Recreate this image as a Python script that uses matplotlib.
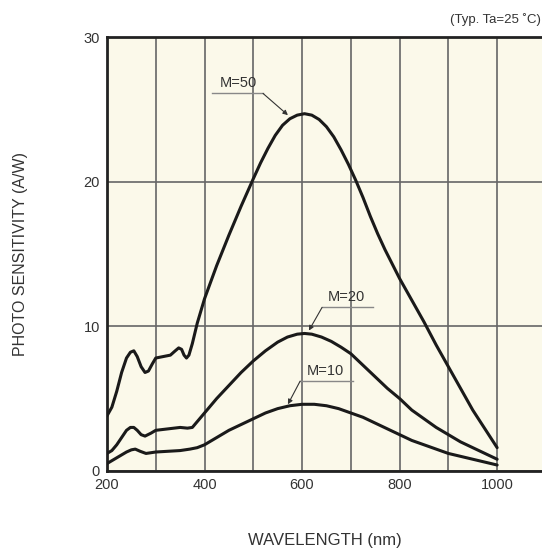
import matplotlib
matplotlib.use("Agg")
import matplotlib.pyplot as plt

# wavelength (nm) / photo sensitivity (A/W)
wl_50 = [200, 210, 220, 230, 240, 248, 255, 262, 270, 278, 285, 293, 300, 315, 330, 340, 347,
         353, 358, 363, 368, 375, 385, 400, 425, 450, 475, 500, 515, 530, 545, 560, 575, 590,
         605, 620, 635, 650, 665, 680, 695, 710, 725, 740, 755, 770, 785, 800, 825, 850, 875,
         900, 925, 950, 975, 1000]
s_50 = [3.8, 4.4, 5.5, 6.8, 7.8, 8.2, 8.3, 7.9, 7.2, 6.8, 6.9, 7.4, 7.8, 7.9, 8.0, 8.3, 8.5,
        8.4, 8.0, 7.8, 8.0, 8.8, 10.2, 11.9, 14.2, 16.3, 18.3, 20.2, 21.3, 22.3, 23.2, 23.9, 24.35, 24.6,
        24.7, 24.6, 24.3, 23.8, 23.1, 22.2, 21.2, 20.1, 18.9, 17.6, 16.4, 15.3, 14.3, 13.3, 11.8, 10.3, 8.7,
        7.2, 5.7, 4.2, 2.9, 1.6]

wl_20 = [200, 210, 220, 230, 240, 248, 255, 262, 270, 278, 290, 300, 325, 350, 365, 375, 385,
         400, 425, 450, 475, 500, 525, 550, 570, 590, 605, 620, 640, 660, 680, 700, 725, 750, 775,
         800, 825, 850, 875, 900, 925, 950, 975, 1000]
s_20 = [1.2, 1.4, 1.8, 2.3, 2.8, 3.0, 3.0, 2.8, 2.5, 2.4, 2.6, 2.8, 2.9, 3.0, 2.95, 3.0, 3.4,
        4.0, 5.0, 5.9, 6.8, 7.6, 8.3, 8.9, 9.25, 9.45, 9.5, 9.45, 9.25, 8.95, 8.55, 8.1, 7.3, 6.5, 5.7,
        5.0, 4.2, 3.6, 3.0, 2.5, 2.0, 1.6, 1.2, 0.8]

wl_10 = [200, 220, 240, 250, 258, 268, 280, 300, 350, 370, 385,
         400, 425, 450, 475, 500, 525, 550, 575, 600, 625, 650, 675, 700, 725, 750, 775,
         800, 825, 850, 875, 900, 925, 950, 975, 1000]
s_10 = [0.5, 0.9, 1.3, 1.45, 1.5, 1.35, 1.2, 1.3, 1.4, 1.5, 1.6,
        1.8, 2.3, 2.8, 3.2, 3.6, 4.0, 4.3, 4.5, 4.6, 4.6, 4.5, 4.3, 4.0, 3.7, 3.3, 2.9,
        2.5, 2.1, 1.8, 1.5, 1.2, 1.0, 0.8, 0.6, 0.4]

labels = ["M=50", "M=20", "M=10"]
# label text position, underline span, arrow tip (data units)
label_xy = [(469, 26.8), (690, 12.0), (648, 6.9)]
line_x = [(415, 520), (641, 746), (596, 705)]
line_y = [26.1, 11.3, 6.2]
tips = [(571, 24.6), (614, 9.7), (571, 4.6)]
starts = [(520, 26.1), (641, 11.3), (596, 6.2)]

plt.rcParams['font.family'] = ['Liberation Sans', 'DejaVu Sans']

fig = plt.figure(figsize=(5.42, 5.5), dpi=100)
ax = fig.add_axes([0.1974, 0.144, 0.8026, 0.7886])
ax.set_facecolor('#fbf9ea')

for w, s in [(wl_50, s_50), (wl_20, s_20), (wl_10, s_10)]:
    ax.plot(w, s, color='#1a1a1a', lw=2.2, solid_joinstyle='round', solid_capstyle='round', zorder=3)

for lab, xy, lx, ly, tip, st in zip(labels, label_xy, line_x, line_y, tips, starts):
    ax.text(xy[0], xy[1], lab, ha='center', va='center', fontsize=10.5, color='#333333')
    ax.plot(lx, [ly, ly], color='#888888', lw=1.0)
    ax.annotate('', xy=tip, xytext=st,
                arrowprops=dict(arrowstyle='-|>', color='#333333', lw=0.8,
                                mutation_scale=7, shrinkA=0, shrinkB=0))

ax.set_xlim(200, 1092)
ax.set_ylim(0, 30)
ax.set_xticks([200, 400, 600, 800, 1000])
ax.set_xticks(range(300, 1100, 200), minor=True)
ax.set_yticks([0, 10, 20, 30])
ax.grid(True, which='both', axis='x', color='#666666', lw=1.2)
ax.grid(True, which='major', axis='y', color='#666666', lw=1.2)
ax.set_axisbelow(True)
ax.tick_params(which='both', length=0, labelsize=10.5, labelcolor='#333333', pad=5)

for side in ['left', 'bottom', 'top']:
    ax.spines[side].set_linewidth(2.0)
    ax.spines[side].set_color('#222222')
ax.spines['right'].set_visible(False)

ax.set_xlabel('WAVELENGTH (nm)', fontsize=12, color='#333333', labelpad=30)
ax.set_ylabel('PHOTO SENSITIVITY (A/W)', fontsize=11.5, color='#333333', labelpad=40)
fig.text(0.998, 0.965, '(Typ. Ta=25 \u02daC)', ha='right', va='center', fontsize=9.5, color='#333333')

fig.savefig('out.png', dpi=100)
